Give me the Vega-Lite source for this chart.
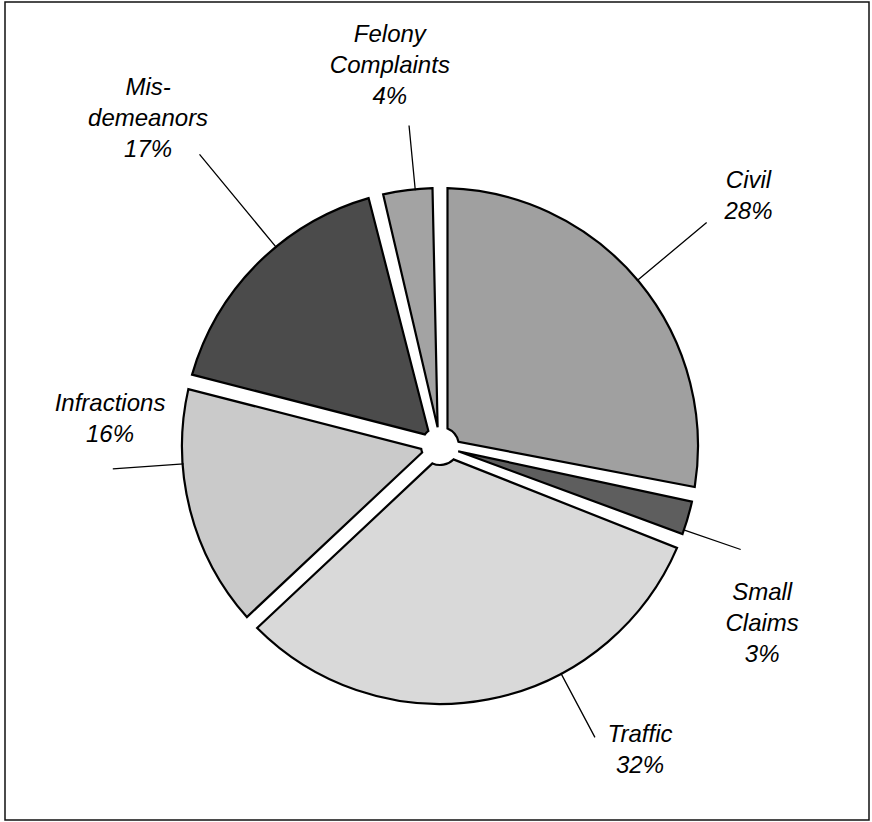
{
  "$schema": "https://vega.github.io/schema/vega-lite/v6.json",
  "width": 872,
  "height": 822,
  "autosize": {"type": "fit", "contains": "padding"},
  "padding": {"left": 5, "top": 2, "right": 3, "bottom": 2},
  "background": "white",
  "view": {"stroke": "#111111", "strokeWidth": 1.5, "fill": "white"},
  "config": {"view": {"stroke": "#111111", "strokeWidth": 1.5}},
  "data": {
    "values": [
      {"category": "Civil", "label": "Civil\n28%", "value": 28, "order": 1},
      {"category": "Small Claims", "label": "Small\nClaims\n3%", "value": 3, "order": 2},
      {"category": "Traffic", "label": "Traffic\n32%", "value": 32, "order": 3},
      {"category": "Infractions", "label": "Infractions\n16%", "value": 16, "order": 4},
      {"category": "Misdemeanors", "label": "Mis-\ndemeanors\n17%", "value": 17, "order": 5},
      {"category": "Felony Complaints", "label": "Felony\nComplaints\n4%", "value": 4, "order": 6}
    ]
  },
  "transform": [
    {"stack": "value", "groupby": [], "as": ["v0", "v1"], "sort": [{"field": "order", "order": "ascending"}]}
  ],
  "layer": [
    {
      "mark": {"type": "arc", "outerRadius": 258, "innerRadius": 19, "padAngle": 0.058, "stroke": "#000000", "strokeWidth": 2.2, "strokeJoin": "miter", "xOffset": 3, "yOffset": 35},
      "encoding": {
        "theta": {"field": "v0", "type": "quantitative", "scale": {"domain": [0, 100]}},
        "theta2": {"field": "v1"},
        "fill": {
          "field": "category",
          "type": "nominal",
          "scale": {
            "domain": ["Civil", "Small Claims", "Traffic", "Infractions", "Misdemeanors", "Felony Complaints"],
            "range": ["#a0a0a0", "#5e5e5e", "#d9d9d9", "#cacaca", "#4b4b4b", "#a3a3a3"]
          },
          "legend": null
        }
      }
    },
    {
      "transform": [{"filter": "datum.category === 'Civil'"}],
      "layer": [
        {
          "mark": {"type": "arc", "innerRadius": 257, "outerRadius": 348, "thetaOffset": 0.873, "theta2Offset": 0.873, "stroke": "#000000", "strokeWidth": 1.3, "fillOpacity": 0, "xOffset": 3, "yOffset": 35},
          "encoding": {"theta": {"field": "v0", "type": "quantitative", "scale": {"domain": [0, 100]}}, "theta2": {"field": "v0"}}
        },
        {
          "mark": {"type": "text", "radius": 397, "thetaOffset": 0.89, "dy": -15.5, "font": "Liberation Sans", "fontStyle": "italic", "fontSize": 24, "lineHeight": 31, "lineBreak": "\n", "align": "center", "baseline": "middle", "color": "#000000", "xOffset": 3, "yOffset": 35},
          "encoding": {"theta": {"field": "v0", "type": "quantitative", "scale": {"domain": [0, 100]}}, "text": {"field": "label"}}
        }
      ]
    },
    {
      "transform": [{"filter": "datum.category === 'Small Claims'"}],
      "layer": [
        {
          "mark": {"type": "arc", "innerRadius": 257, "outerRadius": 318, "thetaOffset": 0.143, "theta2Offset": 0.143, "stroke": "#000000", "strokeWidth": 1.3, "fillOpacity": 0, "xOffset": 3, "yOffset": 35},
          "encoding": {"theta": {"field": "v0", "type": "quantitative", "scale": {"domain": [0, 100]}}, "theta2": {"field": "v0"}}
        },
        {
          "mark": {"type": "text", "radius": 368, "thetaOffset": 0.316, "dy": -31, "font": "Liberation Sans", "fontStyle": "italic", "fontSize": 24, "lineHeight": 31, "lineBreak": "\n", "align": "center", "baseline": "middle", "color": "#000000", "xOffset": 3, "yOffset": 35},
          "encoding": {"theta": {"field": "v0", "type": "quantitative", "scale": {"domain": [0, 100]}}, "text": {"field": "label"}}
        }
      ]
    },
    {
      "transform": [{"filter": "datum.category === 'Traffic'"}],
      "layer": [
        {
          "mark": {"type": "arc", "innerRadius": 257, "outerRadius": 330, "thetaOffset": 0.705, "theta2Offset": 0.705, "stroke": "#000000", "strokeWidth": 1.3, "fillOpacity": 0, "xOffset": 3, "yOffset": 35},
          "encoding": {"theta": {"field": "v0", "type": "quantitative", "scale": {"domain": [0, 100]}}, "theta2": {"field": "v0"}}
        },
        {
          "mark": {"type": "text", "radius": 364, "thetaOffset": 0.612, "dy": -15.5, "font": "Liberation Sans", "fontStyle": "italic", "fontSize": 24, "lineHeight": 31, "lineBreak": "\n", "align": "center", "baseline": "middle", "color": "#000000", "xOffset": 3, "yOffset": 35},
          "encoding": {"theta": {"field": "v0", "type": "quantitative", "scale": {"domain": [0, 100]}}, "text": {"field": "label"}}
        }
      ]
    },
    {
      "transform": [{"filter": "datum.category === 'Infractions'"}],
      "layer": [
        {
          "mark": {"type": "arc", "innerRadius": 257, "outerRadius": 328, "thetaOffset": 0.684, "theta2Offset": 0.684, "stroke": "#000000", "strokeWidth": 1.3, "fillOpacity": 0, "xOffset": 3, "yOffset": 35},
          "encoding": {"theta": {"field": "v0", "type": "quantitative", "scale": {"domain": [0, 100]}}, "theta2": {"field": "v0"}}
        },
        {
          "mark": {"type": "text", "radius": 331, "thetaOffset": 0.833, "dy": -15.5, "font": "Liberation Sans", "fontStyle": "italic", "fontSize": 24, "lineHeight": 31, "lineBreak": "\n", "align": "center", "baseline": "middle", "color": "#000000", "xOffset": 3, "yOffset": 35},
          "encoding": {"theta": {"field": "v0", "type": "quantitative", "scale": {"domain": [0, 100]}}, "text": {"field": "label"}}
        }
      ]
    },
    {
      "transform": [{"filter": "datum.category === 'Misdemeanors'"}],
      "layer": [
        {
          "mark": {"type": "arc", "innerRadius": 257, "outerRadius": 378, "thetaOffset": 0.63, "theta2Offset": 0.63, "stroke": "#000000", "strokeWidth": 1.3, "fillOpacity": 0, "xOffset": 3, "yOffset": 35},
          "encoding": {"theta": {"field": "v0", "type": "quantitative", "scale": {"domain": [0, 100]}}, "theta2": {"field": "v0"}}
        },
        {
          "mark": {"type": "text", "radius": 438, "thetaOffset": 0.59, "dy": -31, "font": "Liberation Sans", "fontStyle": "italic", "fontSize": 24, "lineHeight": 31, "lineBreak": "\n", "align": "center", "baseline": "middle", "color": "#000000", "xOffset": 3, "yOffset": 35},
          "encoding": {"theta": {"field": "v0", "type": "quantitative", "scale": {"domain": [0, 100]}}, "text": {"field": "label"}}
        }
      ]
    },
    {
      "transform": [{"filter": "datum.category === 'Felony Complaints'"}],
      "layer": [
        {
          "mark": {"type": "arc", "innerRadius": 257, "outerRadius": 322, "thetaOffset": 0.155, "theta2Offset": 0.155, "stroke": "#000000", "strokeWidth": 1.3, "fillOpacity": 0, "xOffset": 3, "yOffset": 35},
          "encoding": {"theta": {"field": "v0", "type": "quantitative", "scale": {"domain": [0, 100]}}, "theta2": {"field": "v0"}}
        },
        {
          "mark": {"type": "text", "radius": 383, "thetaOffset": 0.12, "dy": -31, "font": "Liberation Sans", "fontStyle": "italic", "fontSize": 24, "lineHeight": 31, "lineBreak": "\n", "align": "center", "baseline": "middle", "color": "#000000", "xOffset": 3, "yOffset": 35},
          "encoding": {"theta": {"field": "v0", "type": "quantitative", "scale": {"domain": [0, 100]}}, "text": {"field": "label"}}
        }
      ]
    }
  ]
}
